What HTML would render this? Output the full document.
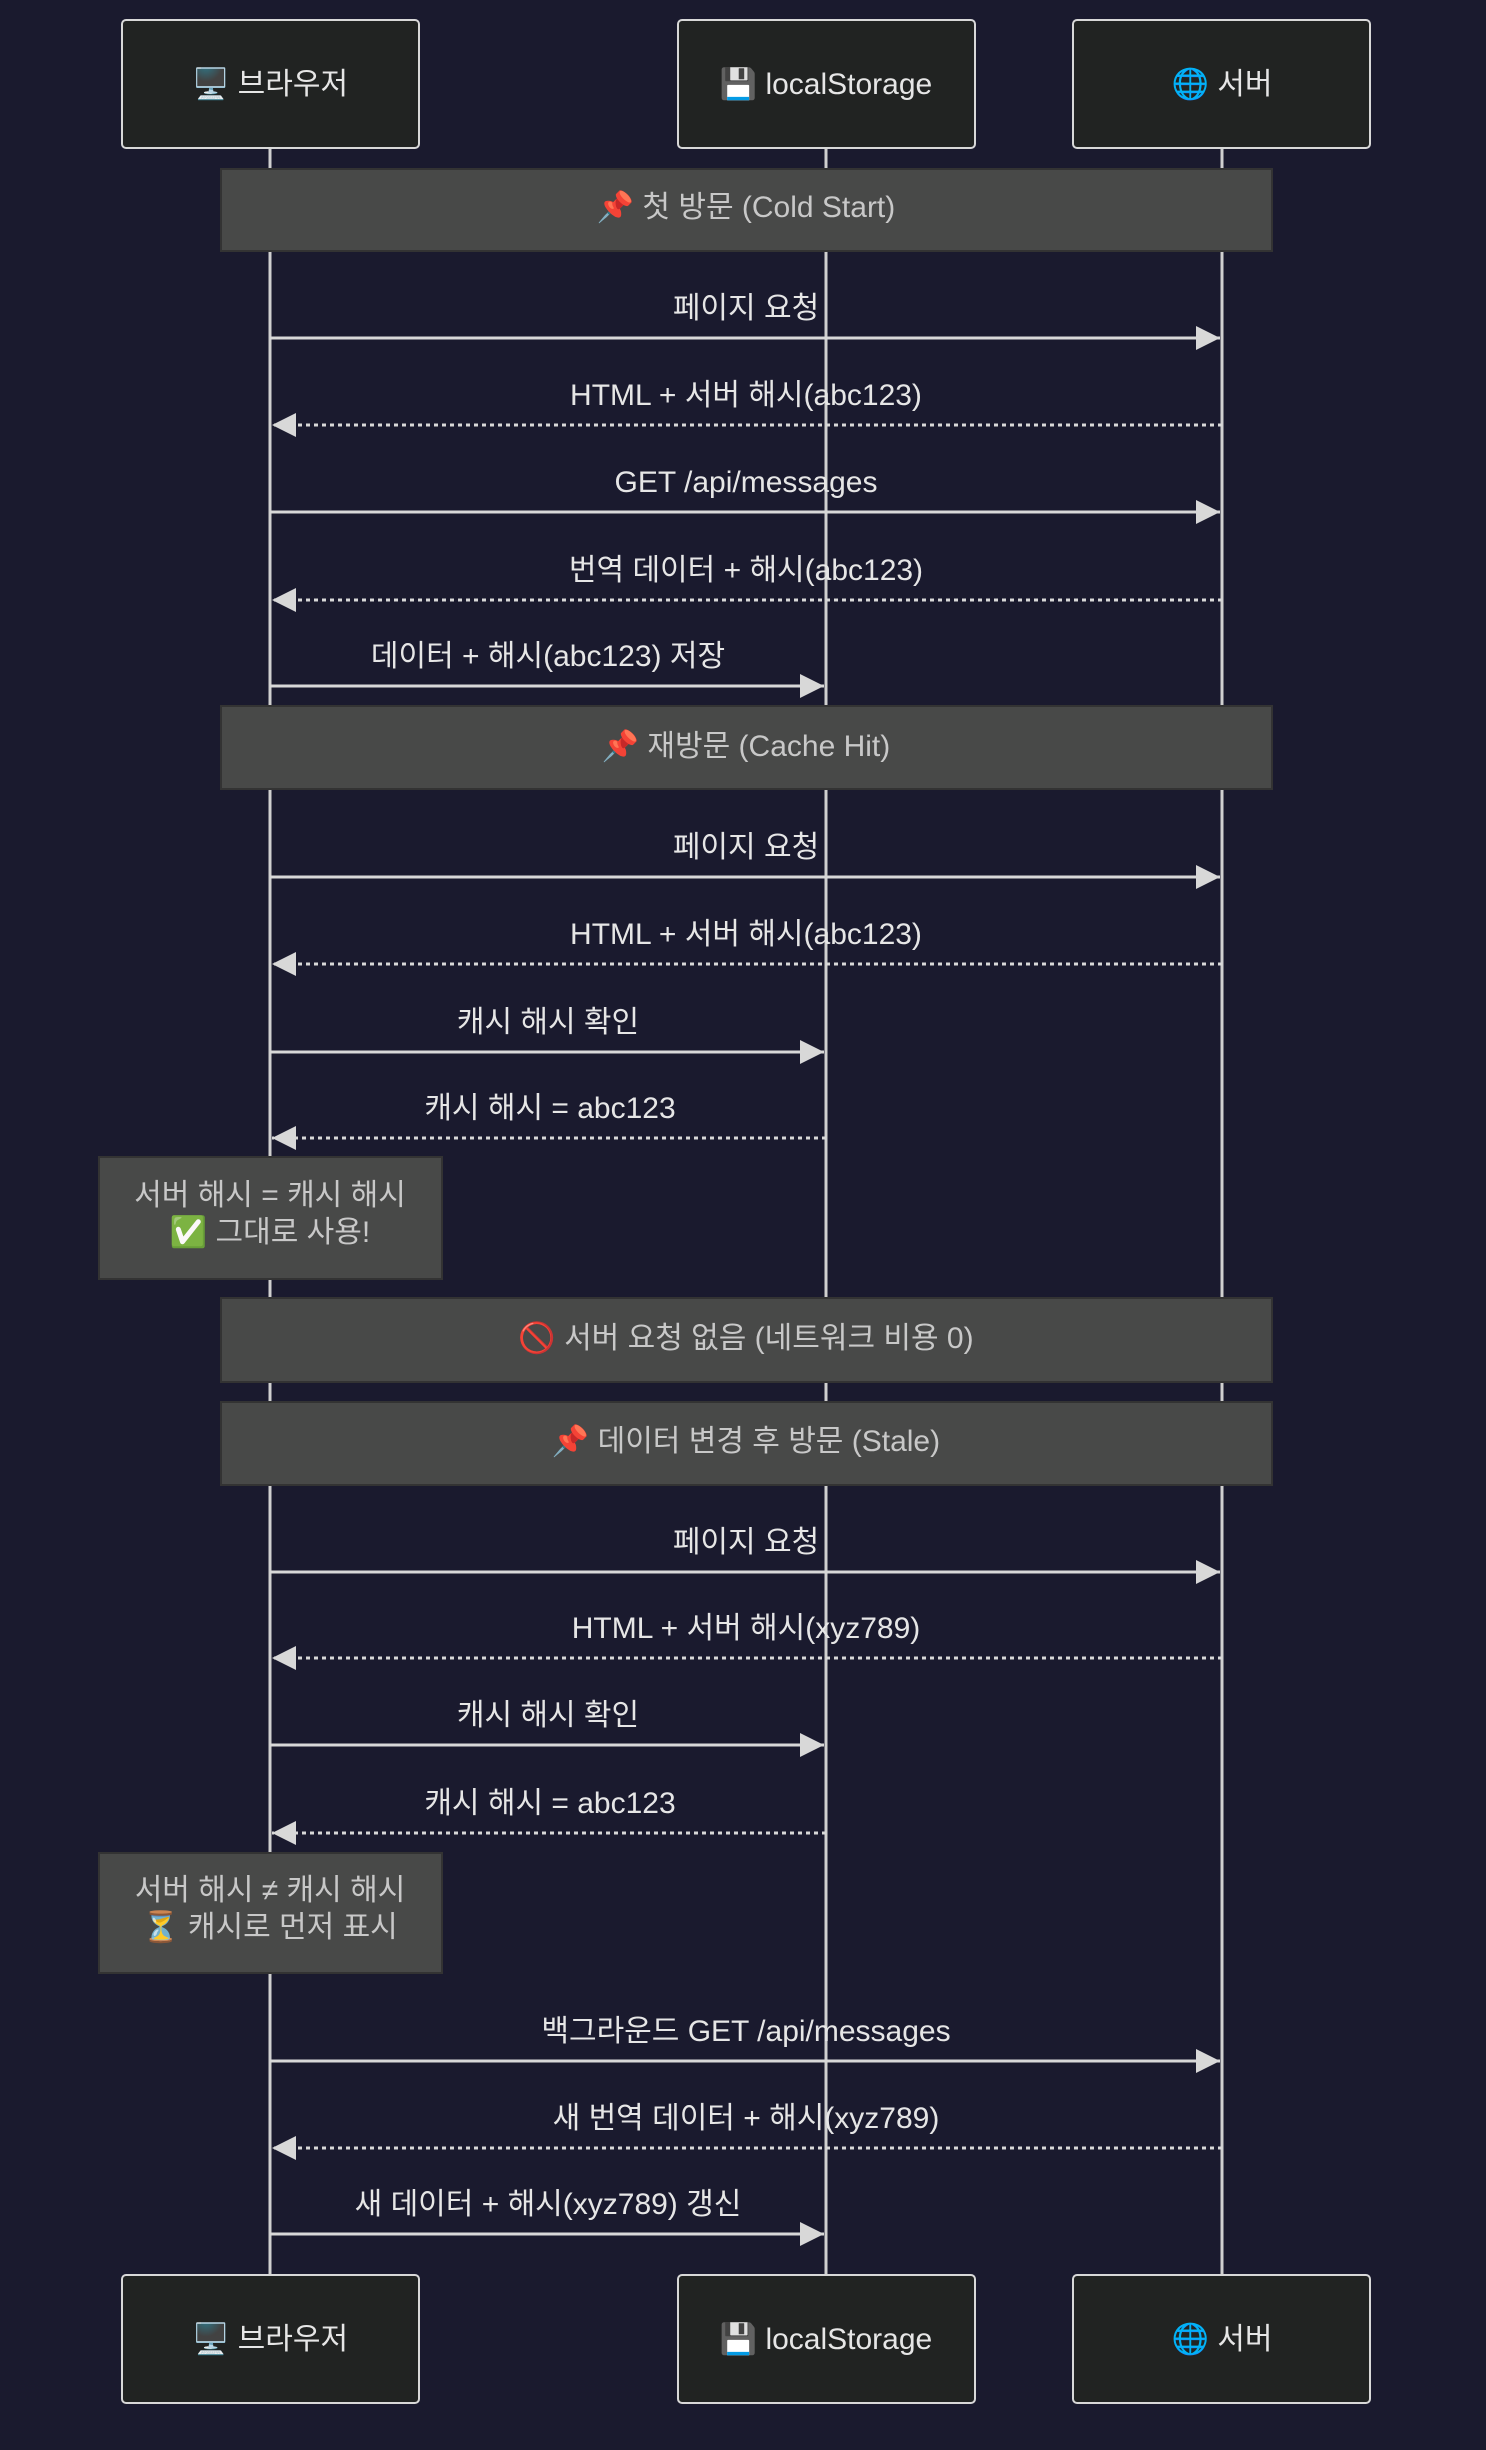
<!DOCTYPE html>
<html><head><meta charset="utf-8"><style>
html,body{margin:0;padding:0;background:#1a1a2e;}
svg{display:block;}
text{font-family:"Liberation Sans","Noto Sans CJK KR",sans-serif;}
</style></head><body>
<svg width="1486" height="2450" viewBox="0 0 1486 2450" xmlns="http://www.w3.org/2000/svg">
<rect width="1486" height="2450" fill="#1a1a2e"/>
<defs>
<marker id="ah" viewBox="0 0 10 10" refX="10" refY="5" markerWidth="24" markerHeight="24" markerUnits="userSpaceOnUse" orient="auto">
<path d="M0,0 L10,5 L0,10 z" fill="#d8d8d8"/></marker>
</defs>
<!-- lifelines -->
<g stroke="#d0d0d0" stroke-width="3">
<line x1="270" y1="148" x2="270" y2="2275"/>
<line x1="826" y1="148" x2="826" y2="2275"/>
<line x1="1222" y1="148" x2="1222" y2="2275"/>
</g>
<!-- actors -->
<g fill="#212322" stroke="#d8d8d8" stroke-width="2">
<rect x="122" y="20" width="297" height="128" rx="4"/>
<rect x="678" y="20" width="297" height="128" rx="4"/>
<rect x="1073" y="20" width="297" height="128" rx="4"/>
<rect x="122" y="2275" width="297" height="128" rx="4"/>
<rect x="678" y="2275" width="297" height="128" rx="4"/>
<rect x="1073" y="2275" width="297" height="128" rx="4"/>
</g>
<g fill="#e6e6e6" font-size="30" text-anchor="middle">
<text x="270" y="94">🖥️ 브라우저</text>
<text x="826" y="94">💾 localStorage</text>
<text x="1222" y="94">🌐 서버</text>
<text x="270" y="2349">🖥️ 브라우저</text>
<text x="826" y="2349">💾 localStorage</text>
<text x="1222" y="2349">🌐 서버</text>
</g>
<!-- notes -->
<g fill="#484948" stroke="#333" stroke-width="2">
<rect x="221" y="169" width="1051" height="82"/>
<rect x="221" y="706" width="1051" height="83"/>
<rect x="99" y="1157" width="343" height="122"/>
<rect x="221" y="1298" width="1051" height="84"/>
<rect x="221" y="1402" width="1051" height="83"/>
<rect x="99" y="1853" width="343" height="120"/>
</g>
<g fill="#c8c8c8" font-size="30" text-anchor="middle">
<text x="746" y="217">📌 첫 방문 (Cold Start)</text>
<text x="746" y="756">📌 재방문 (Cache Hit)</text>
<text x="270" y="1205">서버 해시 = 캐시 해시</text>
<text x="270" y="1242">✅ 그대로 사용!</text>
<text x="746" y="1348">🚫 서버 요청 없음 (네트워크 비용 0)</text>
<text x="746" y="1451">📌 데이터 변경 후 방문 (Stale)</text>
<text x="270" y="1900">서버 해시 ≠ 캐시 해시</text>
<text x="270" y="1937">⏳ 캐시로 먼저 표시</text>
</g>
<!-- messages -->
<g stroke="#d8d8d8" stroke-width="3" fill="none" marker-end="url(#ah)">
<line x1="270" y1="338" x2="1220" y2="338"/>
<line x1="1222" y1="425" x2="272" y2="425" stroke-dasharray="4,4"/>
<line x1="270" y1="512" x2="1220" y2="512"/>
<line x1="1222" y1="600" x2="272" y2="600" stroke-dasharray="4,4"/>
<line x1="270" y1="686" x2="824" y2="686"/>
<line x1="270" y1="877" x2="1220" y2="877"/>
<line x1="1222" y1="964" x2="272" y2="964" stroke-dasharray="4,4"/>
<line x1="270" y1="1052" x2="824" y2="1052"/>
<line x1="826" y1="1138" x2="272" y2="1138" stroke-dasharray="4,4"/>
<line x1="270" y1="1572" x2="1220" y2="1572"/>
<line x1="1222" y1="1658" x2="272" y2="1658" stroke-dasharray="4,4"/>
<line x1="270" y1="1745" x2="824" y2="1745"/>
<line x1="826" y1="1833" x2="272" y2="1833" stroke-dasharray="4,4"/>
<line x1="270" y1="2061" x2="1220" y2="2061"/>
<line x1="1222" y1="2148" x2="272" y2="2148" stroke-dasharray="4,4"/>
<line x1="270" y1="2234" x2="824" y2="2234"/>
</g>
<g fill="#e6e6e6" font-size="30" text-anchor="middle">
<text x="746" y="318">페이지 요청</text>
<text x="746" y="405">HTML + 서버 해시(abc123)</text>
<text x="746" y="492">GET /api/messages</text>
<text x="746" y="580">번역 데이터 + 해시(abc123)</text>
<text x="548" y="666">데이터 + 해시(abc123) 저장</text>
<text x="746" y="857">페이지 요청</text>
<text x="746" y="944">HTML + 서버 해시(abc123)</text>
<text x="548" y="1032">캐시 해시 확인</text>
<text x="550" y="1118">캐시 해시 = abc123</text>
<text x="746" y="1552">페이지 요청</text>
<text x="746" y="1638">HTML + 서버 해시(xyz789)</text>
<text x="548" y="1725">캐시 해시 확인</text>
<text x="550" y="1813">캐시 해시 = abc123</text>
<text x="746" y="2041">백그라운드 GET /api/messages</text>
<text x="746" y="2128">새 번역 데이터 + 해시(xyz789)</text>
<text x="548" y="2214">새 데이터 + 해시(xyz789) 갱신</text>
</g>
</svg>
</body></html>
